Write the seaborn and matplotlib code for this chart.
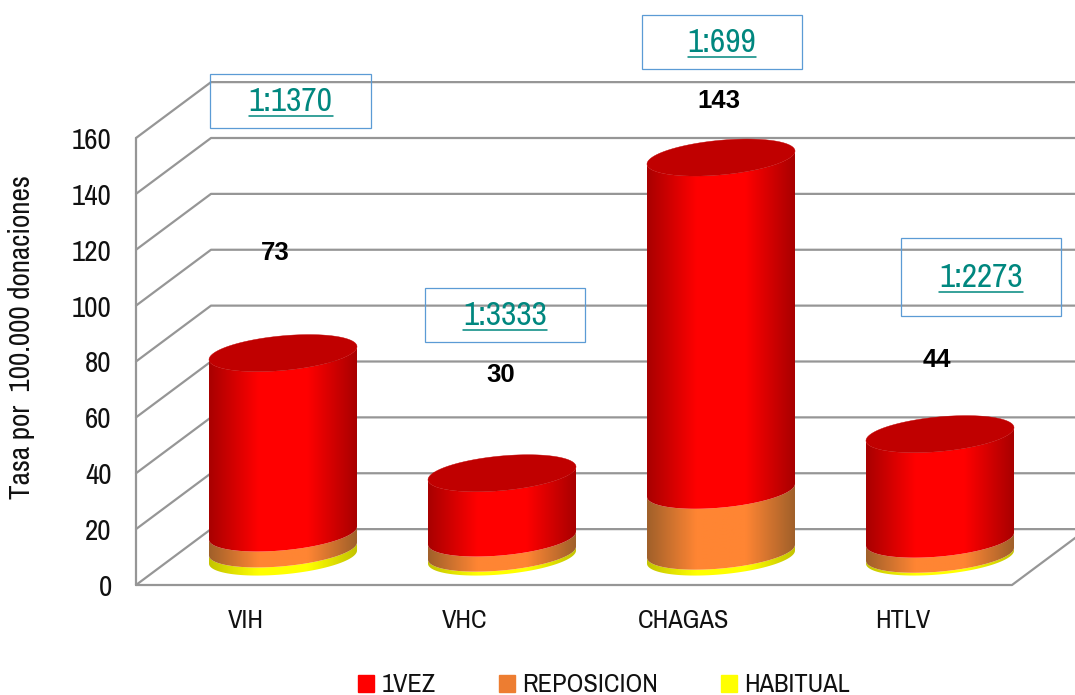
import matplotlib
matplotlib.use('Agg')
import matplotlib.pyplot as plt
import seaborn as sns
import numpy as np
from matplotlib.lines import Line2D
from matplotlib.patches import Patch, PathPatch, Rectangle
from matplotlib.path import Path

categories = ['VIH', 'VHC', 'CHAGAS', 'HTLV']
habitual = [2.9, 1.4, 2.1, 1.0]
reposicion = [5.7, 5.4, 21.8, 5.4]
primera_vez = [64.4, 23.2, 119.1, 37.6]
totals = [73, 30, 143, 44]
ratios = ['1:1370', '1:3333', '1:699', '1:2273']
y_ticks = [0, 20, 40, 60, 80, 100, 120, 140, 160]

W, H = 1075, 695
NARROW = ['Archivo Narrow', 'PT Sans Narrow', 'Liberation Sans']
GRID = '#969696'

# depth of the fake 3D box, in data units (75 px across, one grid step up)
DEPTH_X = 75 / 219
DEPTH_Y = 20
SHEAR = 2.33
MINOR = 6.2

sns.set_theme(style='white')
plt.rcParams['font.family'] = NARROW

fig = plt.figure(figsize=(W / 100, H / 100), dpi=100)
ax = fig.add_axes([136 / W, 1 - 585 / H, 876 / W, 447 / H])
ax.patch.set_visible(False)

# stacked heights go through seaborn, the cylinders are built from its bars
series = [
    ('HABITUAL', habitual, '#FFFF00', '#C4C400', '#FFFF00'),
    ('REPOSICION', reposicion, '#FF8533', '#A0602A', '#ED7D31'),
    ('1VEZ', primera_vez, '#FF0000', '#A80000', '#FF0000'),
]
cum = np.zeros(len(categories))
stacks = []
for name, vals, col, dark, leg in series:
    cum = cum + np.array(vals)
    sns.barplot(x=categories, y=cum, color=col, width=148 / 219, ax=ax)
    stacks.append(ax.containers[-1])

ax.set_xlim(-0.5, 3.5)
ax.set_ylim(0, 160)
for s in ax.spines.values():
    s.set_visible(False)

# walls and floor
xl, xr = -0.5, 3.5
for v in y_ticks:
    ax.plot([xl, xl + DEPTH_X, xr + DEPTH_X], [v, v + DEPTH_Y, v + DEPTH_Y],
            color=GRID, lw=1.6, clip_on=False, zorder=1)
ax.plot([xl, xl], [0, 160], color=GRID, lw=1.6, clip_on=False, zorder=1)
ax.plot([xl, xr, xr + DEPTH_X], [0, 0, DEPTH_Y], color=GRID, lw=1.6, clip_on=False, zorder=1)


def front_arc(cx, a, level, reverse=False):
    t = np.linspace(np.pi, 2 * np.pi, 80)
    xs = cx + a * np.cos(t)
    ys = level + SHEAR * np.cos(t) + MINOR * np.sin(t)
    pts = np.column_stack([xs, ys])
    return pts[::-1] if reverse else pts


def draw_body(cx, a, v0, v1, col, dark, z):
    lev0, lev1 = v0 + DEPTH_Y / 2, v1 + DEPTH_Y / 2
    pts = np.vstack([front_arc(cx, a, lev0), front_arc(cx, a, lev1, reverse=True)])
    path = Path(np.vstack([pts, pts[0]]), closed=True)
    cmap = sns.blend_palette([dark, col, col, dark], n_colors=256, as_cmap=True)
    im = ax.imshow(np.linspace(0, 1, 256)[None, :], cmap=cmap, aspect='auto',
                   extent=[cx - a, cx + a, lev0 - 12, lev1 + 12], zorder=z, interpolation='bilinear')
    im.set_clip_box(fig.bbox)
    im.set_clip_path(PathPatch(path, transform=ax.transData))


for i, (name, vals, col, dark, leg) in enumerate(series):
    for j, bar in enumerate(stacks[i]):
        bar.set_visible(False)
        a = bar.get_width() / 2
        cx = bar.get_x() + a + DEPTH_X / 2
        top = bar.get_height()
        bottom = stacks[i - 1][j].get_height() if i > 0 else 0
        draw_body(cx, a, bottom, top, col, dark, 3 + i)
        if i == len(series) - 1:
            t = np.linspace(0, 2 * np.pi, 160)
            xs = cx + a * np.cos(t)
            ys = top + DEPTH_Y / 2 + SHEAR * np.cos(t) + MINOR * np.sin(t)
            ax.fill(xs, ys, color='#C00000', lw=0.3, zorder=8, clip_on=False)

ax.set_xlim(-0.5, 3.5)
ax.set_ylim(0, 160)
ax.set_yticks(y_ticks)
ax.tick_params(axis='y', length=0, pad=17.5, labelsize=21, labelcolor='#111111')
ax.tick_params(axis='x', length=0, pad=17, labelsize=19, labelcolor='#111111')

fig.text(22 / W, 1 - 337 / H, 'Tasa por  100.000 donaciones', rotation=90,
         ha='center', va='center', fontsize=21, color='#111111')

# totals next to each column
total_pos = [(275, 253), (501, 375), (719, 101), (937, 360)]
for val, (px, py) in zip(totals, total_pos):
    fig.text(px / W, 1 - py / H, str(val), ha='center', va='center', fontsize=18.5,
             fontweight='bold', family='Liberation Sans', color='black', zorder=20)

# boxed ratios
boxes = [(210, 74, 371, 128), (425, 288, 585, 342), (642, 15, 802, 69), (901, 238, 1061, 316)]
renderer = fig.canvas.get_renderer()
for label, (x0, y0, x1, y1) in zip(ratios, boxes):
    fig.add_artist(Rectangle((x0 / W, 1 - y1 / H), (x1 - x0) / W, (y1 - y0) / H, fill=False,
                             edgecolor='#5B9BD5', lw=0.9, transform=fig.transFigure, zorder=15))
    cy = (y0 + y1) / 2
    txt = fig.text((x0 + x1) / 2 / W, 1 - (cy + 1) / H, label, ha='center', va='center',
                   fontsize=24, color='#00877F', zorder=16)
    ext = txt.get_window_extent(renderer)
    fig.add_artist(Line2D([ext.x0 / W, ext.x1 / W], [1 - (cy + 15) / H] * 2, color='#00877F',
                          lw=1.1, transform=fig.transFigure, zorder=16))

handles = [Patch(color=s[4], label=s[0]) for s in reversed(series)]
fig.legend(handles=handles, loc='center', bbox_to_anchor=(604 / W, 1 - 685 / H), ncol=3,
           frameon=False, fontsize=19, handlelength=0.6, handleheight=0.6, handletextpad=0.27,
           columnspacing=2.4, labelcolor='#111111', borderpad=0)

fig.savefig('out.png', dpi=100)
